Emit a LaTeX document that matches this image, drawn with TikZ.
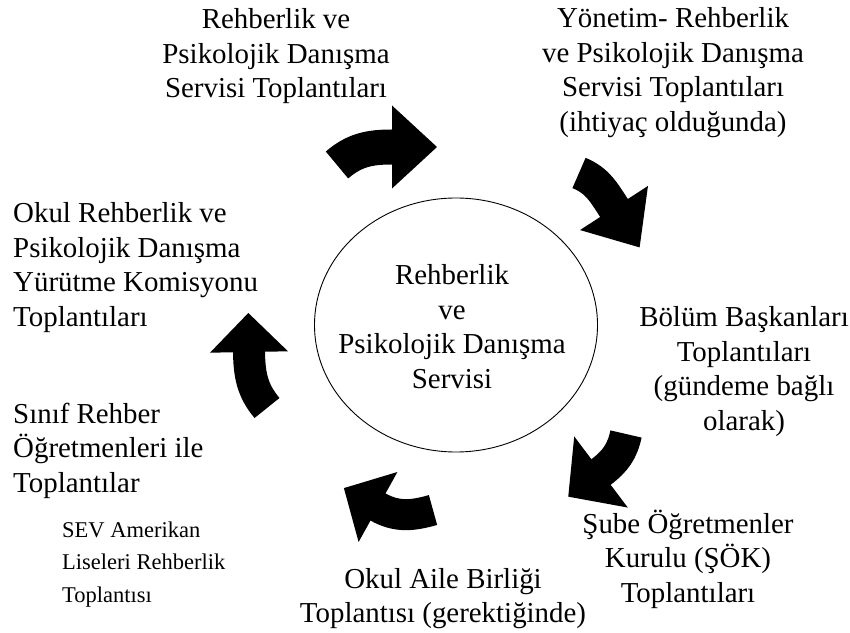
\documentclass[tikz,border=0pt]{standalone}
\usepackage{fontspec}
\setmainfont{Liberation Serif}
\usetikzlibrary{calc}
\tikzset{
  big/.style={font=\fontsize{28.9}{34.5}\selectfont, inner sep=0pt},
  small/.style={font=\fontsize{22.5}{32.5}\selectfont, inner sep=0pt},
  shaft/.style={draw=black, line cap=butt},
  headfill/.style={fill=black},
}
\begin{document}
\begin{tikzpicture}[x=1pt,y=1pt]
\useasboundingbox (0,0) rectangle (850,632);
\fill[white] (0,0) rectangle (850,632);

% central circle
\draw[line width=0.9pt] (456,307) ellipse [x radius=141.5, y radius=127];
\node[big, anchor=base] (center) at (452,347) {\begin{tabular}[t]{@{}c@{}}Rehberlik\\ve\\Psikolojik Danışma\\Servisi\end{tabular}};

% texts
\node[big, anchor=base] (top) at (276,603) {\begin{tabular}[t]{@{}c@{}}Rehberlik ve\\Psikolojik Danışma\\Servisi Toplantıları\end{tabular}};
\node[big, anchor=base] (topright) at (673,604) {\begin{tabular}[t]{@{}c@{}}Yönetim- Rehberlik\\ve Psikolojik Danışma\\Servisi Toplantıları\\(ihtiyaç olduğunda)\end{tabular}};
\node[big, anchor=base west] (left) at (13,409) {\begin{tabular}[t]{@{}l@{}}Okul Rehberlik ve\\Psikolojik Danışma\\Yürütme Komisyonu\\Toplantıları\end{tabular}};
\node[big, anchor=base] (right) at (744,305) {\begin{tabular}[t]{@{}c@{}}Bölüm Başkanları\\Toplantıları\\(gündeme bağlı\\olarak)\end{tabular}};
\node[big, anchor=base west] (leftlow) at (13,209) {\begin{tabular}[t]{@{}l@{}}Sınıf Rehber\\Öğretmenleri ile\\Toplantılar\end{tabular}};
\node[small, anchor=base west] (sev) at (62,95) {\begin{tabular}[t]{@{}l@{}}SEV Amerikan\\Liseleri Rehberlik\\Toplantısı\end{tabular}};
\node[big, anchor=base] (bottom) at (443,44) {\begin{tabular}[t]{@{}c@{}}Okul Aile Birliği\\Toplantısı (gerektiğinde)\end{tabular}};
\node[big, anchor=base] (bottomright) at (688,99) {\begin{tabular}[t]{@{}c@{}}Şube Öğretmenler\\Kurulu (ŞÖK)\\Toplantıları\end{tabular}};

% curved arrows
\coordinate (t1) at (337,467); \coordinate (n1) at (392,485);
\draw[shaft, line width=35pt] (t1) to[out=41,in=180] (n1) -- ++(0:1);
\fill[headfill] ($(n1)+(90:41.5)$) -- ($(n1)+(0:45)$) -- ($(n1)+(-90:41.5)$) -- cycle;

\coordinate (t2) at (579,459); \coordinate (n2) at (614,424);
\draw[shaft, line width=33pt] (t2) to[out=-22,in=123] (n2) -- ++(-57:1);
\fill[headfill] ($(n2)+(33:40.5)$) -- ($(n2)+(-57:47)$) -- ($(n2)+(-147:40.5)$) -- cycle;

\coordinate (t3) at (626,198); \coordinate (n3) at (601,160);
\draw[shaft, line width=32pt] (t3) to[out=258,in=37] (n3) -- ++(217:1);
\fill[headfill] ($(n3)+(307:44.5)$) -- ($(n3)+(217:41)$) -- ($(n3)+(127:44.5)$) -- cycle;

\coordinate (t4) at (433,122); \coordinate (n4) at (378,125);
\draw[shaft, line width=31pt] (t4) to[out=196,in=331] (n4) -- ++(151:1);
\fill[headfill] ($(n4)+(241:40)$) -- ($(n4)+(151:39)$) -- ($(n4)+(61:40)$) -- cycle;

\coordinate (t5) at (267,224); \coordinate (n5) at (249,280);
\draw[shaft, line width=32pt] (t5) to[out=130,in=271] (n5) -- ++(91:1);
\fill[headfill] ($(n5)+(181:39)$) -- ($(n5)+(91:39)$) -- ($(n5)+(1:39)$) -- cycle;
\end{tikzpicture}
\end{document}
